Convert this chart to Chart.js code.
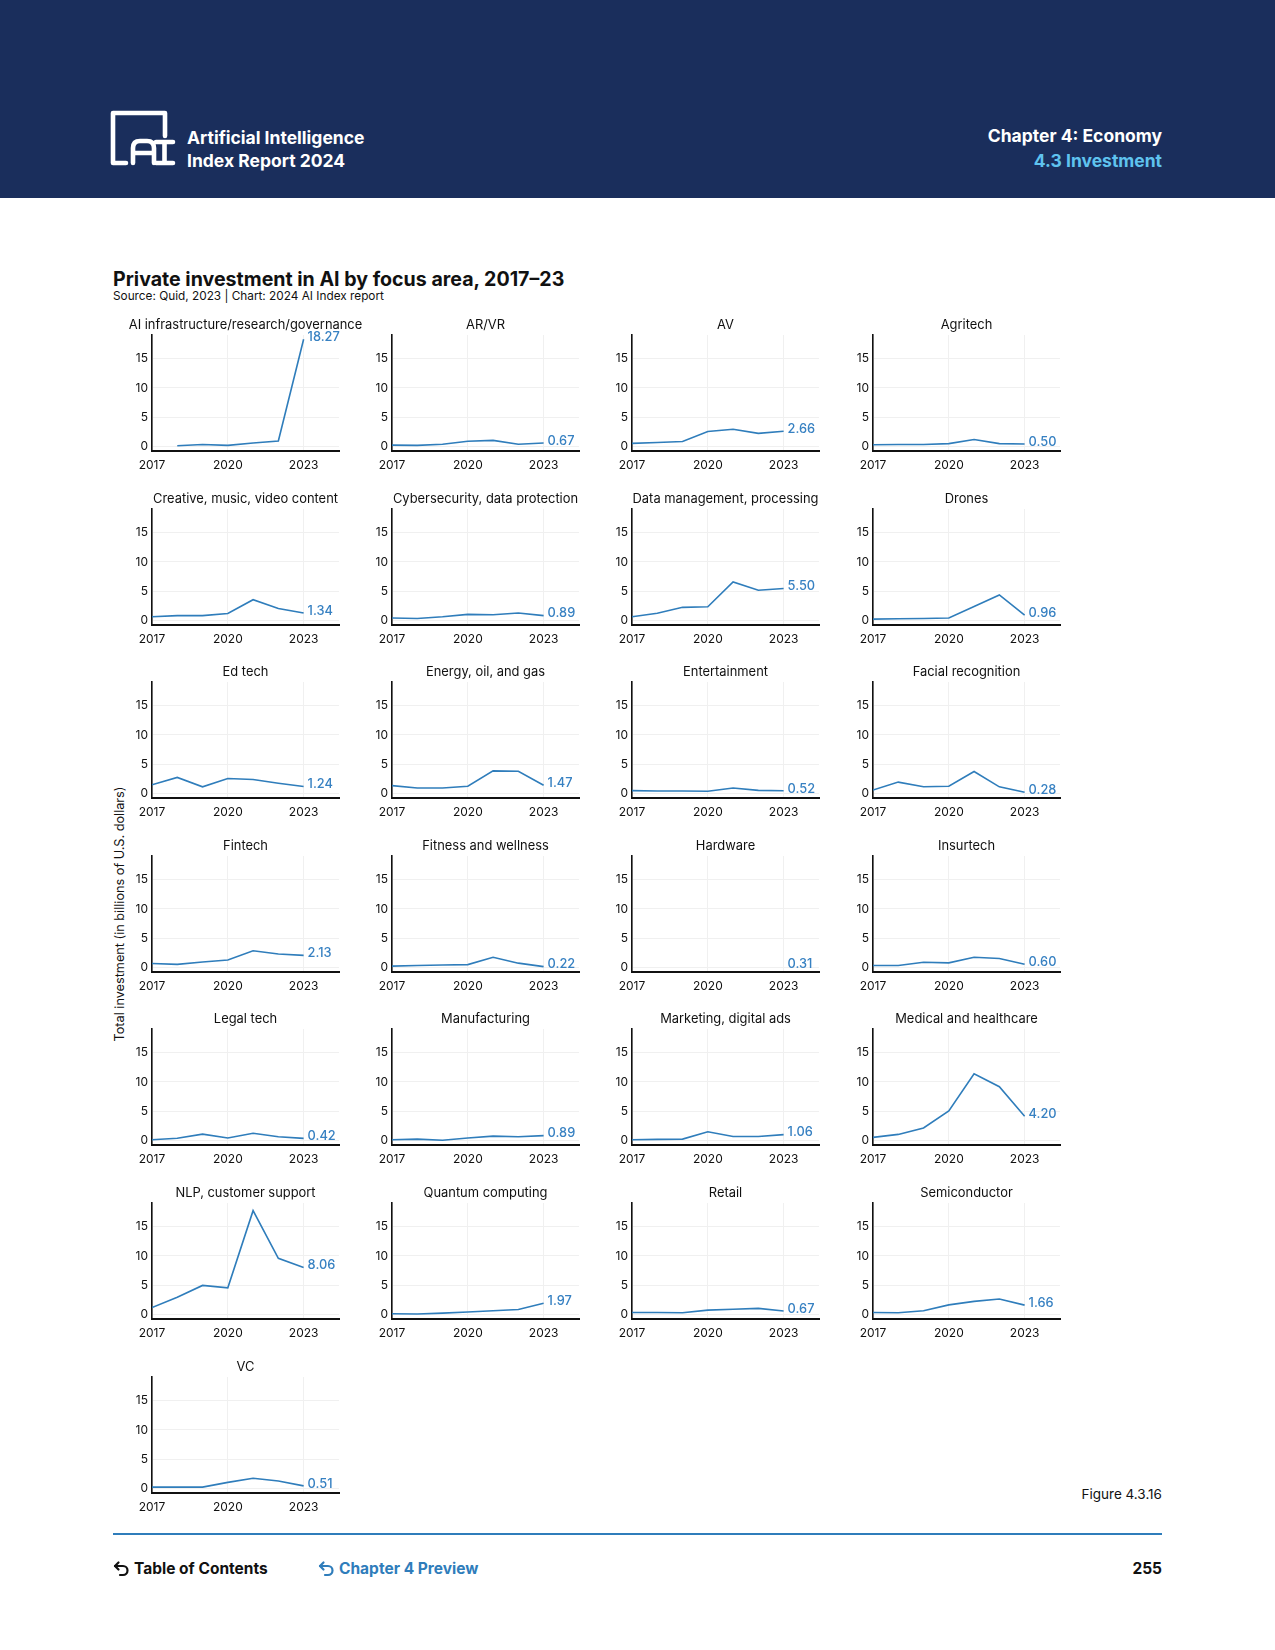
<!DOCTYPE html>
<html>
<head>
<meta charset="utf-8">
<script src="https://cdn.jsdelivr.net/npm/chart.js@4.4.1/dist/chart.umd.min.js"></script>
<style>
  body { margin: 0; width: 1275px; height: 1650px; position: relative; background: #fff; font-family: Inter, sans-serif; overflow: hidden; color: #111; }
  .header { position: absolute; left: 0; top: 0; width: 1275px; height: 198px; background: #1a2e5c; }
  .abs { position: absolute; white-space: nowrap; }
  .hdr { font-size: 17.5px; font-weight: 700; line-height: 22px; color: #fff; }
  canvas { position: absolute; }
</style>
</head>
<body>
<div class="header"></div>
<svg class="abs" style="left:108px;top:108px" width="70" height="62" viewBox="0 0 70 62">
  <g fill="none" stroke="#fff" stroke-width="4.6" stroke-linecap="round" stroke-linejoin="round">
    <path d="M18 55 H5 V5 H57 V28"/>
    <path d="M25 55 V40 Q25 33 32 33 H39 Q46 33 46 40 V55 M25 45 H46"/>
    <path d="M48 34 H65 M56.5 34 V55 M48 55 H65"/>
  </g>
</svg>
<div class="abs hdr" style="left:187px;top:127px">Artificial Intelligence</div>
<div class="abs hdr" style="left:187px;top:150px">Index Report 2024</div>
<div class="abs hdr" style="right:113px;top:125px;text-align:right">Chapter 4: Economy</div>
<div class="abs hdr" style="right:113px;top:150px;text-align:right;color:#5fc3ef">4.3 Investment</div>

<div class="abs" style="left:113px;top:267px;font-size:19.6px;font-weight:700;line-height:24px">Private investment in AI by focus area, 2017–23</div>
<div class="abs" style="left:113px;top:289px;font-size:11.8px;line-height:14px">Source: Quid, 2023 | Chart: 2024 AI Index report</div>

<div class="abs" style="left:-80px;top:907px;width:400px;text-align:center;font-size:12.7px;line-height:14px;transform:rotate(-90deg)">Total investment (in billions of U.S. dollars)</div>

<div class="abs" style="right:113px;top:1486px;font-size:13.5px;line-height:16px">Figure 4.3.16</div>
<div class="abs" style="left:113px;top:1533px;width:1049px;height:2px;background:#2f7dbb"></div>

<svg class="abs" style="left:112px;top:1560px" width="18" height="18" viewBox="0 0 18 18">
  <g fill="none" stroke="#111" stroke-width="2.2" stroke-linecap="round" stroke-linejoin="round">
    <path d="M3 6 H11 A4.5 4.5 0 0 1 11 15 H8"/><path d="M6.5 2.5 L3 6 L6.5 9.5"/>
  </g>
</svg>
<div class="abs" style="left:134px;top:1560px;font-size:15.5px;font-weight:700;line-height:18px">Table of Contents</div>
<svg class="abs" style="left:317px;top:1560px" width="18" height="18" viewBox="0 0 18 18">
  <g fill="none" stroke="#2f7dbb" stroke-width="2.2" stroke-linecap="round" stroke-linejoin="round">
    <path d="M3 6 H11 A4.5 4.5 0 0 1 11 15 H8"/><path d="M6.5 2.5 L3 6 L6.5 9.5"/>
  </g>
</svg>
<div class="abs" style="left:339px;top:1560px;font-size:15.5px;font-weight:700;line-height:18px;color:#2f7dbb">Chapter 4 Preview</div>
<div class="abs" style="right:113px;top:1560px;font-size:15.5px;font-weight:700;line-height:18px">255</div>

<script>
// years and tick values
const years = [2017, 2018, 2019, 2020, 2021, 2022, 2023]
const xTicks = [2017, 2020, 2023]
const yTicks = [0, 5, 10, 15]

// focus areas, in chart order
const areas = ['AI infrastructure/research/governance', 'AR/VR', 'AV', 'Agritech',
  'Creative, music, video content', 'Cybersecurity, data protection', 'Data management, processing', 'Drones',
  'Ed tech', 'Energy, oil, and gas', 'Entertainment', 'Facial recognition',
  'Fintech', 'Fitness and wellness', 'Hardware', 'Insurtech',
  'Legal tech', 'Manufacturing', 'Marketing, digital ads', 'Medical and healthcare',
  'NLP, customer support', 'Quantum computing', 'Retail', 'Semiconductor',
  'VC']

// investment in billions of U.S. dollars, 2017..2023
const aiInfra = [null, 0.2, 0.4, 0.25, 0.65, 1.0, 18.27]
const arVr = [0.3, 0.25, 0.45, 0.95, 1.1, 0.45, 0.67]
const av = [0.6, 0.75, 0.9, 2.6, 3.0, 2.3, 2.66]
const agritech = [0.35, 0.4, 0.4, 0.55, 1.25, 0.55, 0.50]
const creative = [0.7, 0.9, 0.9, 1.25, 3.6, 2.1, 1.34]
const cyber = [0.5, 0.4, 0.7, 1.1, 1.05, 1.35, 0.89]
const dataMgmt = [0.7, 1.3, 2.3, 2.4, 6.6, 5.2, 5.50]
const drones = [0.3, 0.35, 0.4, 0.5, 2.45, 4.4, 0.96]
const edTech = [1.55, 2.8, 1.2, 2.6, 2.45, 1.8, 1.24]
const energy = [1.4, 1.0, 1.0, 1.3, 3.9, 3.85, 1.47]
const entertainment = [0.55, 0.5, 0.5, 0.45, 1.0, 0.6, 0.52]
const facial = [0.65, 2.0, 1.2, 1.3, 3.8, 1.2, 0.28]
const fintech = [0.75, 0.6, 1.0, 1.35, 2.9, 2.35, 2.13]
const fitness = [0.3, 0.4, 0.5, 0.55, 1.8, 0.8, 0.22]
const hardware = [null, null, null, null, null, null, 0.31]
const insurtech = [0.4, 0.4, 0.95, 0.85, 1.8, 1.6, 0.60]
const legalTech = [0.2, 0.45, 1.15, 0.5, 1.3, 0.7, 0.42]
const manufacturing = [0.2, 0.3, 0.1, 0.5, 0.8, 0.7, 0.89]
const marketing = [0.2, 0.25, 0.3, 1.55, 0.75, 0.75, 1.06]
const medical = [0.6, 1.1, 2.2, 5.1, 11.4, 9.2, 4.20]
const nlp = [1.25, 3.0, 5.0, 4.6, 17.7, 9.6, 8.06]
const quantum = [0.2, 0.15, 0.3, 0.5, 0.7, 0.9, 1.97]
const retail = [0.4, 0.4, 0.35, 0.8, 0.95, 1.1, 0.67]
const semiconductor = [0.4, 0.35, 0.7, 1.7, 2.3, 2.7, 1.66]
const vc = [0.3, 0.3, 0.3, 1.1, 1.8, 1.35, 0.51]

const series = [aiInfra, arVr, av, agritech, creative, cyber, dataMgmt, drones,
  edTech, energy, entertainment, facial, fintech, fitness, hardware, insurtech,
  legalTech, manufacturing, marketing, medical, nlp, quantum, retail, semiconductor, vc]

const LINE = '#2f7dbb'
const LABEL = '#3781c2'
const FONT = 'Inter'

// panel title centred over the plot area, allowed to run past its edges
const panelTitle = {
  id: 'panelTitle',
  afterDraw(chart, args, opts) {
    const ctx = chart.ctx
    const area = chart.chartArea
    ctx.save()
    ctx.fillStyle = '#111'
    ctx.font = '12.9px ' + FONT
    ctx.textAlign = 'center'
    ctx.textBaseline = 'middle'
    ctx.fillText(opts.text, (area.left + area.right) / 2, area.top - 10)
    ctx.restore()
  }
}

// the last value, written right of the line's end
const endLabel = {
  id: 'endLabel',
  afterDatasetsDraw(chart) {
    const ctx = chart.ctx
    const meta = chart.getDatasetMeta(0)
    const data = chart.data.datasets[0].data
    const last = meta.data[data.length - 1]
    ctx.save()
    ctx.fillStyle = LABEL
    ctx.font = '500 12.8px ' + FONT
    ctx.textAlign = 'left'
    ctx.textBaseline = 'middle'
    ctx.fillText(data[data.length - 1].y.toFixed(2), last.x + 4, last.y - 2)
    ctx.restore()
  }
}

function makeChart(index) {
  const col = index % 4
  const row = Math.floor(index / 4)
  const left = Math.round(151.7 + 240.3 * col) - 40
  const top = Math.round(335 + 173.6 * row) - 22
  const canvas = document.createElement('canvas')
  canvas.width = 256
  canvas.height = 163
  canvas.style.left = left + 'px'
  canvas.style.top = top + 'px'
  document.body.appendChild(canvas)

  const values = series[index]
  new Chart(canvas, {
    type: 'line',
    data: {
      datasets: [{
        data: years.map((y, i) => ({ x: y, y: values[i] })),
        borderColor: LINE,
        borderWidth: 1.6,
        pointRadius: 0,
        tension: 0
      }]
    },
    options: {
      responsive: false,
      animation: false,
      devicePixelRatio: 1,
      layout: { padding: { top: 22, right: 29, bottom: 0, left: 0 } },
      plugins: {
        legend: { display: false },
        tooltip: { enabled: false },
        title: { display: false },
        panelTitle: { text: areas[index] }
      },
      scales: {
        x: {
          type: 'linear',
          min: 2017,
          max: 2024.4,
          afterBuildTicks: s => { s.ticks = xTicks.map(v => ({ value: v })) },
          afterFit: s => { s.height = 25 },
          ticks: { padding: 7, color: '#111', font: { family: FONT, size: 12 }, maxRotation: 0, autoSkip: false, callback: v => String(v) },
          grid: { color: '#f0f0f0', lineWidth: 1, drawTicks: false },
          border: { color: '#111', width: 2 }
        },
        y: {
          min: -0.7,
          max: 19,
          afterBuildTicks: s => { s.ticks = yTicks.map(v => ({ value: v })) },
          afterFit: s => { s.width = 40 },
          ticks: { padding: 4, color: '#111', font: { family: FONT, size: 12 } },
          grid: { color: '#f0f0f0', lineWidth: 1, drawTicks: false },
          border: { color: '#111', width: 1.6 }
        }
      }
    },
    plugins: [panelTitle, endLabel]
  })
}

areas.forEach((a, i) => makeChart(i))
</script>
</body>
</html>
